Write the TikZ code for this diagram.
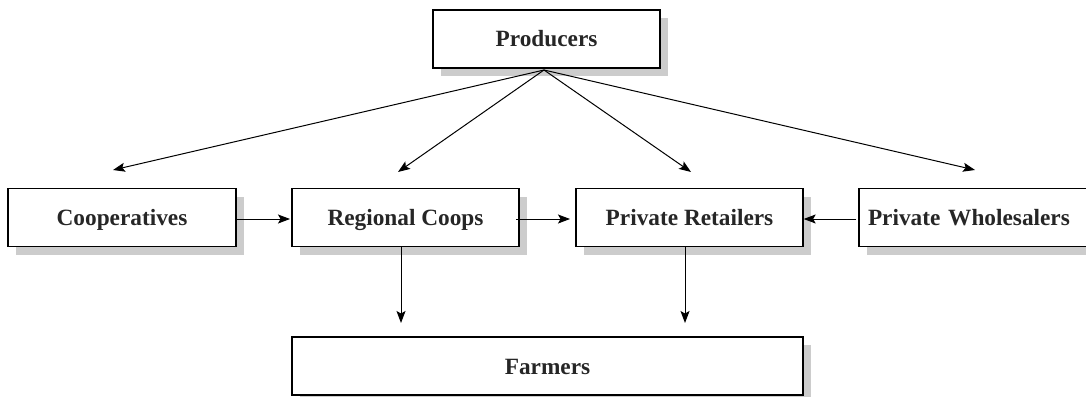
\documentclass[tikz,border=0pt]{standalone}
\usepackage{fontspec}
\setmainfont{Liberation Serif}
\usetikzlibrary{arrows.meta,shadows,positioning}
\begin{document}
\begin{tikzpicture}[x=1pt,y=-1pt,
  box/.style={draw=black, line width=1.3pt, fill=white, inner sep=0pt,
    minimum height=58pt, font=\fontsize{23.3}{27}\selectfont\bfseries,
    text=black!85, text height=16pt, text depth=0pt,
    general shadow={fill=black!20, shadow xshift=8pt, shadow yshift=-8pt}},
  arr/.style={draw=black, line width=1pt, -{Stealth[length=12pt,width=9pt,inset=2.5pt]}}
]
\clip (0,0) rectangle (1086,396);
\fill[white] (0,0) rectangle (1086,396);

\node[box, minimum width=227pt] (prod) at (546.5,39) {Producers};
\node[box, minimum width=228pt] (coop) at (122,217.5) {Cooperatives};
\node[box, minimum width=227pt] (reg) at (405.5,217.5) {Regional Coops};
\node[box, minimum width=227pt] (ret) at (689.5,217.5) {Private Retailers};
\node[box, minimum width=236pt, text width=218pt, align=left, inner xsep=9pt] (whole) at (977,217.5) {Private Wholesalers};
\node[box, minimum width=511pt] (farm) at (547.5,366) {Farmers};

\coordinate (hub) at (544,70);
\coordinate (tcoop) at (113,170);
\coordinate (treg) at (398,172);
\coordinate (tret) at (691,172);
\coordinate (twhole) at (975,170);

\draw[arr] (hub) -- (tcoop);
\draw[arr] (hub) -- (treg);
\draw[arr] (hub) -- (tret);
\draw[arr] (hub) -- (twhole);

\draw[arr] (coop.east |- 0,219) -- (290,219);
\coordinate (rs) at (516,219);
\coordinate (rt) at (570,219);
\draw[arr] (rs) -- (rt);
\coordinate (ws) at (856,219);
\draw[arr] (ws) -- (ret.east |- ws);

\coordinate (d1s) at (401,247);
\coordinate (d1t) at (401,323);
\coordinate (d2s) at (685,247);
\coordinate (d2t) at (685,323);
\draw[arr] (d1s) -- (d1t);
\draw[arr] (d2s) -- (d2t);
\end{tikzpicture}
\end{document}
